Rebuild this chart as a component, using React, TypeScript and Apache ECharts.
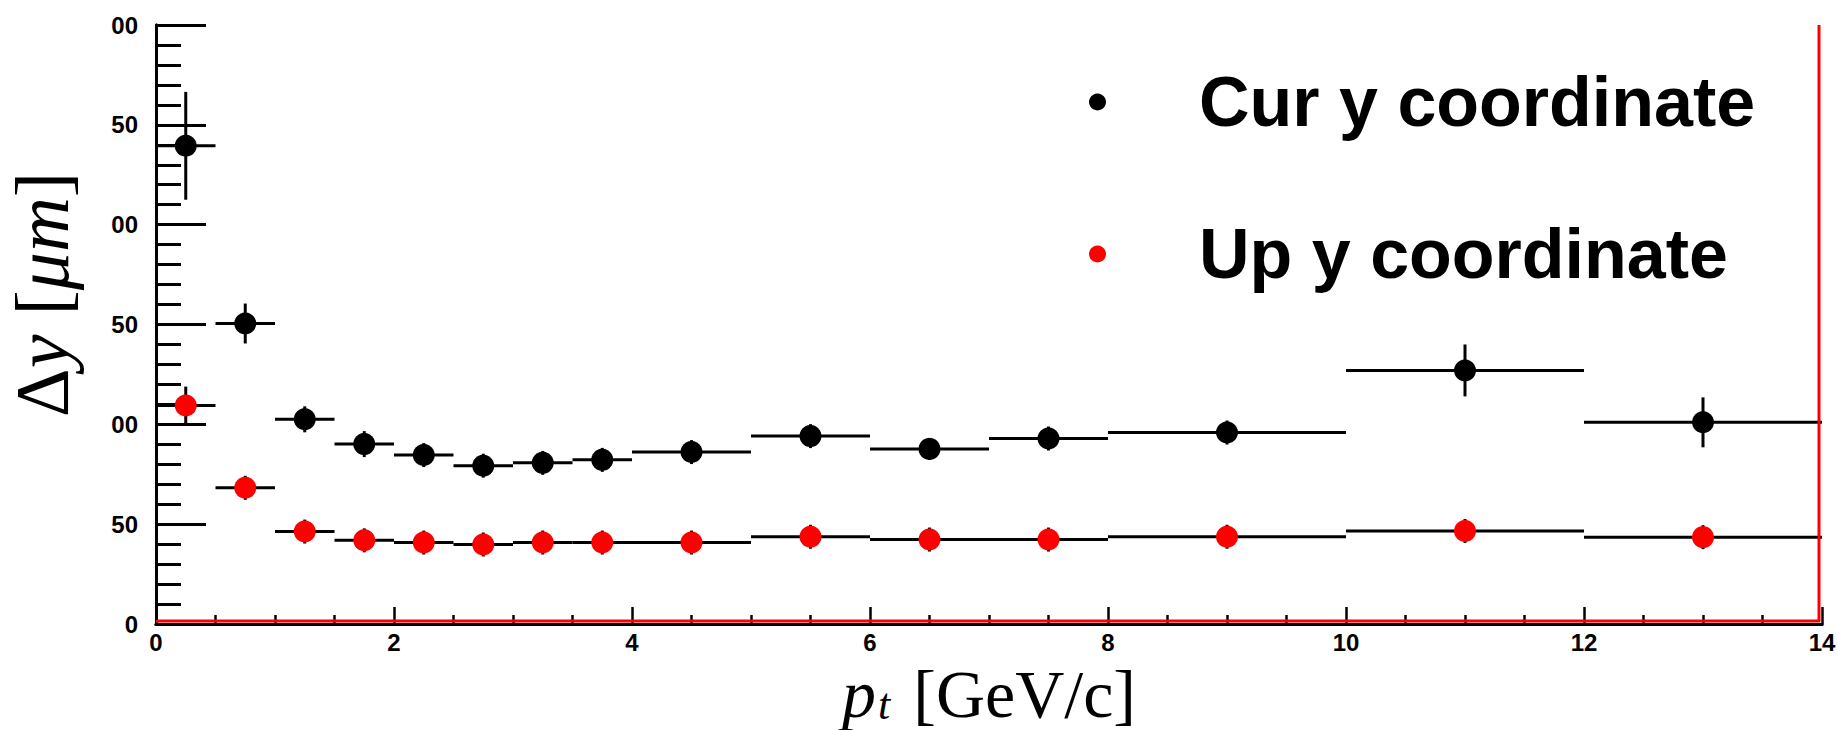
import React, { useEffect, useRef } from "react";
import * as echarts from "echarts";

// ---- data ----
const binLow = [0, 0.5, 1, 1.5, 2, 2.5, 3, 3.5, 4, 5, 6, 7, 8, 10, 12];
const binHigh = [0.5, 1, 1.5, 2, 2.5, 3, 3.5, 4, 5, 6, 7, 8, 10, 12, 14];
const binCenter = [0.25, 0.75, 1.25, 1.75, 2.25, 2.75, 3.25, 3.75, 4.5, 5.5, 6.5, 7.5, 9, 11, 13];
const curValues = [239.5, 150.5, 102.5, 90.1, 84.6, 79.3, 80.7, 82.2, 86.1, 94.1, 87.7, 92.9, 95.9, 127, 101];
const curErrors = [27, 10, 6.5, 6.5, 6, 6, 6, 6, 6, 6, 5.5, 6, 6, 13, 12.5];
const upValues = [109.4, 68.2, 46.3, 41.9, 40.8, 39.8, 40.8, 40.8, 40.8, 43.7, 42.3, 42.3, 43.7, 46.6, 43.5];
const upErrors = [9.5, 6, 6, 6, 6, 6, 6, 6, 6, 6, 6, 6, 6, 6, 6];
const seriesNames = ["Cur y coordinate", "Up y coordinate"];
const xTicks = { min: 0, max: 14, interval: 2 };
const yTicks = { min: 0, max: 300, interval: 50 };

const errData = (vals: number[], errs: number[]) =>
  vals.map((v, i) => [binLow[i], binHigh[i], binCenter[i], v, errs[i]]);
const ptData = (vals: number[]) => vals.map((v, i) => [binCenter[i], v]);

const renderErr = (params: any, api: any) => {
  const lo = api.value(0);
  const hi = api.value(1);
  const c = api.value(2);
  const y = api.value(3);
  const e = api.value(4);
  const pL = api.coord([lo, y]);
  const pH = api.coord([hi, y]);
  const pT = api.coord([c, y + e]);
  const pB = api.coord([c, y - e]);
  const st = { stroke: "#000", lineWidth: 3 };
  return {
    type: "group",
    children: [
      { type: "line", shape: { x1: pL[0], y1: pL[1], x2: pH[0], y2: pH[1] }, style: st },
      { type: "line", shape: { x1: pT[0], y1: pT[1], x2: pB[0], y2: pB[1] }, style: st },
    ],
  };
};

const W = 1837;
const H = 730;

export default function App() {
  const ref = useRef<HTMLDivElement>(null);
  useEffect(() => {
    if (!ref.current) return;
    document.body.style.margin = "0";
    const chart = echarts.init(ref.current, undefined, { renderer: "svg", width: W, height: H });
    const left = 156;
    const right = 15;
    const top = 25;
    const bottom = 106;
    const labelFont = { fontFamily: "Liberation Sans", fontWeight: "bold" as const, fontSize: 24, color: "#000" };
    chart.setOption({
      animation: false,
      backgroundColor: "#fff",
      grid: { left, right, top, bottom, containLabel: false, outerBoundsMode: "none" },
      legend: {
        data: seriesNames,
        orient: "vertical",
        left: 1084,
        top: 62,
        itemWidth: 17,
        itemHeight: 17,
        itemGap: 82,
        icon: "circle",
        textStyle: {
          fontFamily: "Liberation Sans",
          fontWeight: "bold",
          fontSize: 70,
          color: "#000",
          padding: [0, 0, 0, 88],
        },
      },
      xAxis: [
        {
          type: "value",
          min: xTicks.min,
          max: xTicks.max,
          interval: xTicks.interval,
          position: "bottom",
          axisLine: { show: true, lineStyle: { color: "#000", width: 3 } },
          axisTick: { show: true, inside: true, length: 17, lineStyle: { color: "#000", width: 2.5 } },
          minorTick: { show: true, splitNumber: 4, length: 9, lineStyle: { color: "#000", width: 2.5 } },
          splitLine: { show: false },
          axisLabel: { ...labelFont, margin: 6 },
          name: "{i|p}{s|t}{n| [GeV/c]}",
          nameLocation: "middle",
          nameGap: 36,
          nameTextStyle: {
            fontFamily: "Liberation Serif",
            fontSize: 68,
            color: "#000",
            rich: {
              i: { fontFamily: "Liberation Serif", fontStyle: "italic", fontSize: 68, verticalAlign: "top", color: "#000" },
              s: { fontFamily: "Liberation Serif", fontStyle: "italic", fontSize: 44, verticalAlign: "top", padding: [22, 6, 0, 2], color: "#000" },
              n: { fontFamily: "Liberation Serif", fontSize: 68, verticalAlign: "top", color: "#000" },
            },
          },
        },
        {
          type: "value",
          min: xTicks.min,
          max: xTicks.max,
          position: "top",
          axisLine: { show: true, lineStyle: { color: "#000", width: 3 } },
          axisTick: { show: false },
          axisLabel: { show: false },
          splitLine: { show: false },
        },
      ],
      yAxis: [
        {
          type: "value",
          min: yTicks.min,
          max: yTicks.max,
          interval: yTicks.interval,
          position: "left",
          axisLine: { show: true, lineStyle: { color: "#000", width: 3 } },
          axisTick: { show: true, inside: true, length: 50, lineStyle: { color: "#000", width: 3 } },
          minorTick: { show: true, splitNumber: 5, length: 25, lineStyle: { color: "#000", width: 3 } },
          splitLine: { show: false },
          axisLabel: {
            ...labelFont,
            margin: 18,
            formatter: (v: number) => (v === 0 ? "0" : String(v).slice(-2)),
          },
          name: "{n|Δ}{i|y}{n| [}{i|μm}{n|]}",
          nameLocation: "middle",
          nameRotate: 90,
          nameGap: 76,
          nameTextStyle: {
            fontFamily: "Liberation Serif",
            fontSize: 76,
            color: "#000",
            padding: [0, 0, 0, 60],
            rich: {
              i: { fontFamily: "Liberation Serif", fontStyle: "italic", fontSize: 76, color: "#000" },
              n: { fontFamily: "Liberation Serif", fontSize: 76, color: "#000" },
            },
          },
        },
        {
          type: "value",
          min: yTicks.min,
          max: yTicks.max,
          position: "right",
          axisLine: { show: true, lineStyle: { color: "#000", width: 3 } },
          axisTick: { show: false },
          axisLabel: { show: false },
          splitLine: { show: false },
        },
      ],
      graphic: [
        {
          type: "line",
          silent: true,
          z: 100,
          shape: { x1: left, y1: H - bottom - 3, x2: W - right - 2, y2: H - bottom - 3 },
          style: { stroke: "#ff0000", lineWidth: 3 },
        },
        {
          type: "line",
          silent: true,
          z: 100,
          shape: { x1: W - right - 3, y1: top, x2: W - right - 3, y2: H - bottom - 2 },
          style: { stroke: "#ff0000", lineWidth: 3 },
        },
      ],
      series: [
        {
          name: "curErr",
          type: "custom",
          renderItem: renderErr,
          data: errData(curValues, curErrors),
          encode: { x: [0, 1, 2], y: [3] },
          z: 2,
          silent: true,
        },
        {
          name: "upErr",
          type: "custom",
          renderItem: renderErr,
          data: errData(upValues, upErrors),
          encode: { x: [0, 1, 2], y: [3] },
          z: 2,
          silent: true,
        },
        {
          name: seriesNames[0],
          type: "scatter",
          symbol: "circle",
          symbolSize: 22,
          itemStyle: { color: "#000", opacity: 1 },
          data: ptData(curValues),
          z: 3,
        },
        {
          name: seriesNames[1],
          type: "scatter",
          symbol: "circle",
          symbolSize: 22,
          itemStyle: { color: "#ff0000", opacity: 1 },
          data: ptData(upValues),
          z: 3,
        },
      ],
    });
    return () => chart.dispose();
  }, []);
  return (
    <div
      ref={ref}
      style={{ position: "fixed", left: 0, top: 0, width: W, height: H, background: "#fff" }}
    />
  );
}
